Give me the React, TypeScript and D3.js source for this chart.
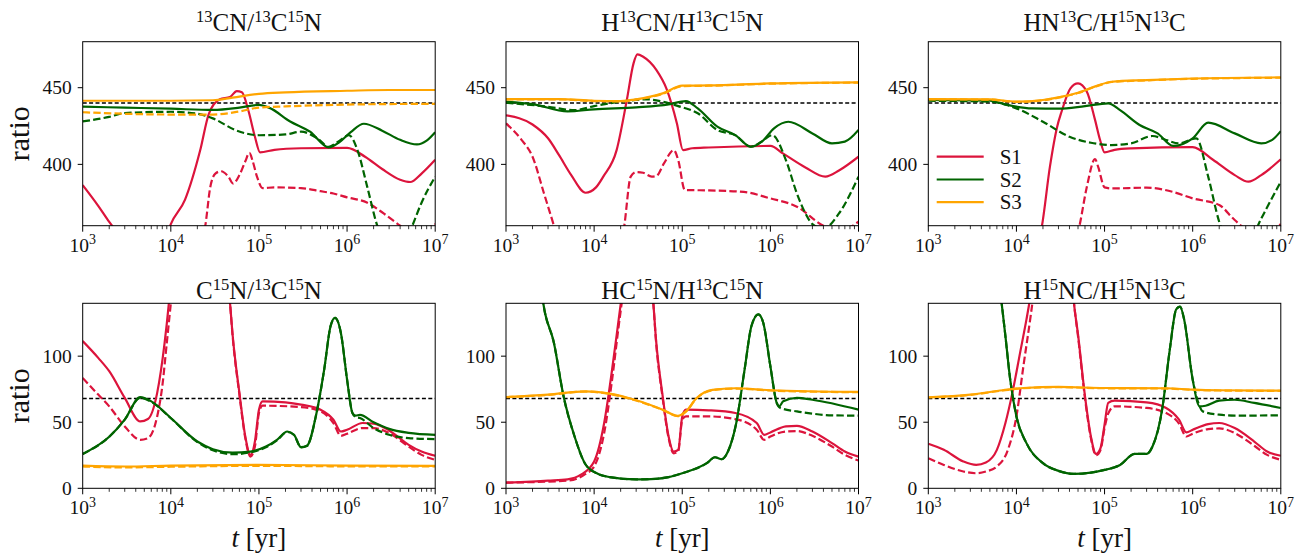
import React from 'react';
import * as d3 from 'd3';

type P = [number, number];

// ---------- axis / label data ----------
const xTickValues = [1e3, 1e4, 1e5, 1e6, 1e7];
const xTickExponents = ['3', '4', '5', '6', '7'];
const topYTicks = [400, 450];
const bottomYTicks = [0, 50, 100];
const topYDomain: [number, number] = [360, 480];
const bottomYDomain: [number, number] = [0, 140];
const refTop = 440;
const refBottom = 68;
const seriesNames = ['S1', 'S2', 'S3'];
const seriesColors = ['#dc143c', '#006400', '#ffa500'];

// title segments: [text, superscript?]
const title1: [string, boolean][] = [['13', true], ['CN/', false], ['13', true], ['C', false], ['15', true], ['N', false]];
const title2: [string, boolean][] = [['H', false], ['13', true], ['CN/H', false], ['13', true], ['C', false], ['15', true], ['N', false]];
const title3: [string, boolean][] = [['HN', false], ['13', true], ['C/H', false], ['15', true], ['N', false], ['13', true], ['C', false]];
const title4: [string, boolean][] = [['C', false], ['15', true], ['N/', false], ['13', true], ['C', false], ['15', true], ['N', false]];
const title5: [string, boolean][] = [['HC', false], ['15', true], ['N/H', false], ['13', true], ['C', false], ['15', true], ['N', false]];
const title6: [string, boolean][] = [['H', false], ['15', true], ['NC/H', false], ['15', true], ['N', false], ['13', true], ['C', false]];

// ---------- panel 1: 13CN/13C15N ----------
const p1S1: P[] = [[1e3, 386.5], [1.5e3, 373], [2e3, 362.5], [3e3, 350], [5e3, 338], [7e3, 342], [9e3, 354], [1e4, 361], [1.45e4, 377], [2.15e4, 409], [2.7e4, 433], [3.6e4, 442.5], [4.7e4, 444], [5.6e4, 447.8], [6.4e4, 447], [7.6e4, 435], [9e4, 418], [1.03e5, 407.8], [1.5e5, 409.5], [3e5, 410.5], [1e6, 410.8], [1.6e6, 405], [2.5e6, 397], [4e6, 390], [5.2e6, 388.5], [7e6, 394], [1e7, 403]];
const p1S1d: P[] = [[1e3, 330], [3e3, 312], [1e4, 318], [2e4, 345], [2.46e4, 360], [2.8e4, 385], [3.2e4, 394], [3.7e4, 395.5], [4.5e4, 392], [5.1e4, 387.5], [6e4, 393], [7e4, 402], [7.8e4, 407.5], [8.5e4, 402], [9.5e4, 392], [1.1e5, 384.5], [1.5e5, 385], [3e5, 384.5], [5e5, 382.5], [7e5, 381], [1e6, 378.5], [1.7e6, 375], [2.6e6, 368], [4e6, 360], [5e6, 356], [7e6, 357], [1e7, 361]];
const p1S2: P[] = [[1e3, 437.6], [3e3, 437], [1e4, 436.3], [3e4, 435.5], [6e4, 437], [1e5, 438.8], [1.3e5, 437], [2.26e5, 428], [3.8e5, 421.3], [6.2e5, 411], [8e5, 414], [1.1e6, 421], [1.55e6, 426.5], [2.5e6, 422], [4e6, 416], [6.2e6, 413], [8e6, 415.5], [1e7, 421]];
const p1S2d: P[] = [[1e3, 428], [2e3, 431], [3e3, 433.5], [1e4, 434.3], [2e4, 433], [3e4, 430], [5.6e4, 422], [1e5, 419], [2e5, 419.5], [3e5, 421.3], [4.6e5, 417], [6.2e5, 411.5], [8e5, 415], [1.05e6, 419], [1.3e6, 410], [1.7e6, 385], [2.2e6, 360], [3e6, 345], [4e6, 342], [5.5e6, 360], [7e6, 375], [1e7, 392]];
const p1S3: P[] = [[1e3, 441.5], [1e4, 441.5], [3e4, 441.8], [5e4, 443.5], [1e5, 446], [2e5, 447], [1e6, 448], [3e6, 448.5], [1e7, 448.5]];
const p1S3d: P[] = [[1e3, 434], [3e3, 433], [1e4, 432.5], [3e4, 432.5], [6e4, 434.5], [1e5, 437], [2e5, 437.8], [1e6, 439], [1e7, 439.5]];

// ---------- panel 2: H13CN/H13C15N ----------
const p2S1: P[] = [[1e3, 432], [2e3, 426], [3e3, 417], [4e3, 406], [5.5e3, 393], [8e3, 381.5], [1.05e4, 385], [1.27e4, 392], [1.8e4, 409.3], [2.35e4, 442], [2.8e4, 465.9], [3.1e4, 471.7], [3.6e4, 470.2], [5.1e4, 461.5], [6.6e4, 449.6], [8.7e4, 426.7], [1.02e5, 409.3], [1.3e5, 410.5], [2e5, 411], [1e6, 412], [1.4e6, 407], [2.5e6, 398], [4.2e6, 392], [6e6, 396], [1e7, 405]];
const p2S1d: P[] = [[1e3, 426.7], [1.5e3, 416], [2e3, 405], [2.7e3, 381], [3.5e3, 360], [5e3, 330], [1e4, 310], [1.5e4, 320], [2.2e4, 360], [2.6e4, 392], [3e4, 395], [3.6e4, 394.5], [4.5e4, 392], [5.1e4, 392.5], [6.2e4, 400.6], [8e4, 409.3], [9e4, 402.8], [1.07e5, 383.3], [2e5, 383], [5e5, 382], [1e6, 377.8], [2e6, 372.4], [4e6, 360], [6e6, 357], [8e6, 359], [1e7, 362.6]];
const p2S2: P[] = [[1e3, 440.9], [2e3, 439.3], [5e3, 434.5], [1e4, 435.9], [3e4, 437.2], [7e4, 439.1], [1.1e5, 441.3], [1.5e5, 436.5], [2.5e5, 424.6], [4e5, 419.1], [6e5, 411.5], [8e5, 414.8], [1.1e6, 423.5], [1.6e6, 427.8], [3e6, 420.2], [5e6, 413.7], [7e6, 414.8], [1e7, 422.4]];
const p2S2d: P[] = [[1e3, 440.2], [3e3, 437.6], [6e3, 435.4], [1e4, 438], [2e4, 440.9], [4e4, 442.4], [6e4, 440.9], [9e4, 438], [1.5e5, 433.3], [2.5e5, 422.4], [4e5, 419], [6e5, 411.5], [8e5, 415], [1.05e6, 419.1], [1.5e6, 402.8], [2e6, 381], [2.5e6, 368], [3e6, 361], [4e6, 358], [6e6, 368], [1e7, 392]];
const p2S3: P[] = [[1e3, 442.6], [4e3, 442.6], [1e4, 441.5], [2e4, 441.3], [3e4, 442.4], [6e4, 446.3], [1e5, 451.3], [2e5, 451.5], [1e6, 452.8], [1e7, 453.5]];
const p2S3d: P[] = [[1e3, 442.4], [4e3, 442.4], [1e4, 441.3], [2e4, 441.1], [3e4, 442.2], [6e4, 446], [1e5, 451], [2e5, 451.3], [1e6, 452.6], [1e7, 453.3]];

// ---------- panel 3: HN13C/H15N13C ----------
const p3S1: P[] = [[1e3, 300], [5e3, 290], [1e4, 300], [1.5e4, 335], [1.95e4, 360], [2.4e4, 398.5], [2.9e4, 424.6], [3.25e4, 434.3], [4.1e4, 449.6], [5e4, 452.8], [6.3e4, 447.4], [7.8e4, 429], [8.9e4, 415.9], [1e5, 407.8], [1.3e5, 409.5], [2e5, 410.4], [1e6, 411.3], [1.7e6, 403], [3e6, 393], [4.3e6, 388.7], [6e6, 393], [1e7, 403.3]];
const p3S1d: P[] = [[1e3, 300], [1e4, 280], [3e4, 300], [4.5e4, 345], [5.2e4, 360], [6.3e4, 385.4], [7.8e4, 403.5], [8.5e4, 398], [1e5, 385], [1.2e5, 384.3], [3e5, 384.8], [6e5, 382], [1e6, 377.8], [2e6, 373.5], [3e6, 363.7], [4e6, 358], [6e6, 356], [1e7, 361]];
const p3S2: P[] = [[1e3, 442], [5e3, 441.5], [8e3, 438.7], [1.5e4, 436.5], [3e4, 436.3], [6e4, 438], [1.1e5, 439.8], [1.5e5, 435.4], [2.5e5, 425.7], [4e5, 420.2], [6e5, 412], [1e6, 417], [1.5e6, 427.2], [3e6, 420.2], [6e6, 413.7], [8e6, 416], [1e7, 421.7]];
const p3S2d: P[] = [[1e3, 441.5], [5e3, 440.9], [1e4, 436.5], [2e4, 427.8], [4e4, 418], [7e4, 414.1], [1.2e5, 412.6], [2e5, 413.7], [3.5e5, 418.5], [5e5, 415.9], [7e5, 413.7], [1.1e6, 417], [1.5e6, 392], [2e6, 362.6], [3e6, 345], [4.5e6, 347], [5.5e6, 360], [7e6, 372], [1e7, 388.7]];
const p3S3: P[] = [[1e3, 442.6], [5e3, 442.4], [1e4, 440.9], [2e4, 442], [3e4, 443.7], [5e4, 446.7], [8e4, 451], [1.2e5, 453.9], [3e5, 455], [1e6, 456], [1e7, 456.7]];
const p3S3d: P[] = [[1e3, 442.4], [5e3, 442.2], [1e4, 440.7], [2e4, 441.8], [3e4, 443.5], [5e4, 446.5], [8e4, 450.8], [1.2e5, 453.7], [3e5, 454.8], [1e6, 455.8], [1e7, 456.5]];

// ---------- panel 4: C15N/13C15N ----------
const p4S1: P[] = [[1e3, 111.4], [1.5e3, 98.7], [2e3, 88.6], [3e3, 68.4], [4.5e3, 50.6], [5.5e3, 52.4], [7e3, 72.2], [8.5e3, 110], [9.5e3, 140], [1.1e4, 190], [2e4, 260], [3.5e4, 220], [4.7e4, 140], [5e4, 117.7], [6e4, 72.2], [7e4, 39.2], [8e4, 25.3], [9e4, 35.4], [1e5, 59.5], [1.1e5, 65.8], [2e5, 65], [3e5, 63.3], [5e5, 59.5], [7e5, 51.9], [8.5e5, 43], [1e6, 44.3], [1.5e6, 49.4], [2e6, 48.9], [3e6, 43.8], [5e6, 32.9], [7e6, 27.8], [1e7, 24.6]];
const p4S1d: P[] = [[1e3, 83.5], [1.5e3, 70.9], [2e3, 62], [3e3, 46.8], [4.5e3, 36.7], [5.5e3, 38], [7e3, 54.4], [8e3, 77.2], [9e3, 110], [1e4, 140], [1.2e4, 190], [2e4, 260], [3.5e4, 220], [4.7e4, 140], [5e4, 117], [6e4, 71], [7e4, 38], [8e4, 24], [9e4, 31.6], [1e5, 57], [1.1e5, 62.5], [3e5, 61.5], [5e5, 58.2], [7e5, 49.4], [8.5e5, 39.7], [1e6, 41.3], [1.5e6, 45.6], [2e6, 45.6], [3e6, 41.8], [5e6, 31.6], [7e6, 25.3], [1e7, 21.5]];
const p4S2: P[] = [[1e3, 26], [2e3, 39], [3e3, 52], [4.5e3, 69], [6e3, 65.8], [1e4, 53.2], [2e4, 35.4], [3e4, 29.6], [5e4, 27], [8e4, 27.8], [1.2e5, 31.6], [1.6e5, 36.7], [2.1e5, 43], [2.5e5, 40.5], [3e5, 31.1], [3.5e5, 32.2], [4.5e5, 57], [5.5e5, 89.9], [6.5e5, 122.8], [7.3e5, 129], [8.5e5, 117.7], [1e6, 82.3], [1.15e6, 57], [1.25e6, 55], [1.4e6, 55.5], [2e6, 50], [3e6, 45], [5e6, 42], [1e7, 40.5]];
const p4S2d: P[] = [[1e3, 26], [2e3, 39], [3e3, 52], [4.5e3, 68.5], [6e3, 65.5], [1e4, 53], [2e4, 35], [3e4, 28.8], [5e4, 25.8], [8e4, 27.2], [1.2e5, 31], [1.6e5, 36.2], [2.1e5, 42.6], [2.5e5, 40.3], [3e5, 31], [3.5e5, 32], [4.5e5, 57], [5.5e5, 89.9], [6.5e5, 122.8], [7.3e5, 129], [8.5e5, 117.7], [1e6, 82.3], [1.15e6, 57], [1.25e6, 54], [1.4e6, 53.2], [2e6, 45.6], [3e6, 40.5], [5e6, 38], [1e7, 37.2]];
const p4S3: P[] = [[1e3, 17.2], [3e3, 16.5], [1e4, 17.2], [1e5, 17.7], [1e6, 17.2], [1e7, 17]];
const p4S3d: P[] = [[1e3, 16.5], [3e3, 15.8], [1e4, 16.3], [1e5, 17], [1e6, 16.6], [1e7, 16.5]];

// ---------- panel 5: HC15N/H13C15N ----------
const p5S1: P[] = [[1e3, 4.3], [3e3, 5.8], [5e3, 6.8], [7e3, 10.1], [1e4, 20.3], [1.3e4, 49.4], [1.6e4, 89.9], [1.9e4, 127.8], [2.1e4, 150], [3e4, 230], [4e4, 180], [4.7e4, 140], [5e4, 115.2], [6e4, 69.6], [7e4, 39.2], [8e4, 27.8], [9e4, 29.1], [1e5, 54.4], [1.1e5, 59.5], [2e5, 59], [4e5, 57], [7e5, 49.4], [8.5e5, 40.5], [1e6, 42.3], [1.5e6, 46.8], [2e6, 47.3], [3e6, 43], [5e6, 34.2], [7e6, 27.8], [1e7, 24]];
const p5S1d: P[] = [[1e3, 4.3], [5e3, 5.8], [8e3, 10.9], [1e4, 16.5], [1.3e4, 41.8], [1.6e4, 82.3], [1.9e4, 122.8], [2.15e4, 150], [3e4, 230], [4e4, 180], [4.7e4, 140], [5e4, 114], [6e4, 68], [7e4, 38], [8e4, 26.5], [9e4, 28], [1e5, 51.9], [1.1e5, 54.4], [2e5, 54.4], [4e5, 52.4], [7e5, 44.3], [8.5e5, 36.7], [1e6, 39.2], [1.5e6, 43], [2e6, 43.3], [3e6, 39.7], [5e6, 31.6], [7e6, 25.3], [1e7, 21]];
const p5S2: P[] = [[1e3, 400], [2e3, 220], [2.65e3, 140], [3.5e3, 110], [4.5e3, 69.6], [6e3, 39.2], [8e3, 18], [1.1e4, 11], [1.5e4, 8.5], [3e4, 6.8], [5e4, 7.2], [7e4, 8.5], [1e5, 11.4], [1.9e5, 19], [2.35e5, 23.5], [2.8e5, 22], [3.3e5, 27.8], [4.1e5, 49.4], [5.1e5, 89.9], [6.1e5, 122.8], [7.3e5, 131.6], [8.3e5, 125.3], [1e6, 92.4], [1.18e6, 64.6], [1.26e6, 62], [1.4e6, 65.8], [2e6, 68.4], [3e6, 67], [1e7, 59.5]];
const p5S2d: P[] = [[1e3, 400], [2e3, 220], [2.65e3, 140], [3.5e3, 110], [4.5e3, 69.6], [6e3, 39.2], [8e3, 18], [1.1e4, 11], [1.5e4, 8.5], [3e4, 6.8], [5e4, 7.2], [7e4, 8.5], [1e5, 11.4], [1.9e5, 19], [2.35e5, 23.5], [2.8e5, 22], [3.3e5, 27.8], [4.1e5, 49.4], [5.1e5, 89.9], [6.1e5, 122.8], [7.3e5, 131.6], [8.3e5, 125.3], [1e6, 92.4], [1.18e6, 64.6], [1.3e6, 60.8], [2e6, 58.2], [3e6, 56.5], [5e6, 55.2], [1e7, 55]];
const p5S3: P[] = [[1e3, 69.1], [3e3, 70.9], [8e3, 73.4], [1.5e4, 71.6], [3e4, 66.6], [6e4, 59.5], [8.9e4, 54.8], [1.1e5, 58.2], [1.45e5, 68.2], [2.2e5, 74.5], [4e5, 75.7], [1e6, 74.2], [1e7, 72.9]];
const p5S3d: P[] = [[1e3, 68.9], [3e3, 70.7], [8e3, 73.2], [1.5e4, 71.4], [3e4, 66.4], [6e4, 59.3], [8.9e4, 54.6], [1.1e5, 58], [1.45e5, 68], [2.2e5, 74.3], [4e5, 75.5], [1e6, 74], [1e7, 72.7]];

// ---------- panel 6: H15NC/H15N13C ----------
const p6S1: P[] = [[1e3, 33.7], [1.5e3, 29.1], [2.5e3, 20.3], [3.5e3, 17.7], [4.5e3, 19.5], [6e3, 29.1], [7.5e3, 49.4], [9e3, 72.2], [1.1e4, 102.5], [1.3e4, 127.8], [1.4e4, 140], [2e4, 220], [3e4, 240], [4e4, 180], [4.5e4, 140], [5e4, 116.5], [6e4, 69.6], [7e4, 39.2], [8e4, 26], [9e4, 30.4], [1e5, 48.1], [1.1e5, 64.6], [1.3e5, 66.3], [3e5, 65], [5e5, 60.8], [7e5, 51.9], [8.5e5, 42.3], [1e6, 44.3], [1.5e6, 48.6], [2e6, 49.4], [3e6, 45.6], [5e6, 35.4], [7e6, 27.8], [1e7, 24.6]];
const p6S1d: P[] = [[1e3, 22.8], [1.5e3, 17.7], [2.5e3, 12.7], [3.5e3, 11.4], [4.5e3, 12.7], [6e3, 16.5], [8e3, 29.1], [1e4, 54.4], [1.2e4, 92.4], [1.45e4, 130.4], [1.55e4, 145], [2e4, 220], [3e4, 240], [4e4, 180], [4.5e4, 140], [5e4, 115], [6e4, 68], [7e4, 38], [8e4, 25], [9e4, 29], [1e5, 45.6], [1.1e5, 56.5], [1.3e5, 62], [3e5, 60.8], [5e5, 57], [7e5, 48.9], [8.5e5, 39.2], [1e6, 41.3], [1.5e6, 44.8], [2e6, 45.3], [3e6, 41.8], [5e6, 32.2], [7e6, 25.3], [1e7, 21.5]];
const p6S2: P[] = [[1e3, 500], [4e3, 250], [6.8e3, 140], [7.5e3, 115.2], [8.5e3, 82.3], [1e4, 54.4], [1.3e4, 34.2], [2e4, 19], [3e4, 13.2], [4.5e4, 10.9], [7e4, 11.9], [1e5, 13.9], [1.5e5, 17.7], [2.2e5, 26], [3e5, 26], [3.5e5, 31.6], [4.5e5, 59.5], [5.5e5, 105], [6.5e5, 135.4], [7.2e5, 137.5], [8e5, 127.8], [1e6, 82.3], [1.2e6, 62], [1.4e6, 62.5], [2e6, 66.3], [3e6, 67], [5e6, 64.6], [1e7, 60.8]];
const p6S2d: P[] = [[1e3, 500], [4e3, 250], [6.8e3, 140], [7.5e3, 115.2], [8.5e3, 82.3], [1e4, 54.4], [1.3e4, 34.2], [2e4, 19], [3e4, 13.2], [4.5e4, 10.9], [7e4, 11.9], [1e5, 13.9], [1.5e5, 17.7], [2.2e5, 26], [3e5, 26], [3.5e5, 31.6], [4.5e5, 59.5], [5.5e5, 105], [6.5e5, 135.4], [7.2e5, 137.5], [8e5, 127.8], [1e6, 82.3], [1.2e6, 62], [1.3e6, 58.2], [2e6, 55.7], [3e6, 55], [1e7, 55.2]];
const p6S3: P[] = [[1e3, 68.9], [3e3, 70.9], [7e3, 74.2], [1.2e4, 75.9], [3e4, 76.7], [1e5, 75.9], [5e5, 75.7], [1e6, 74.7], [2e6, 74.2], [1e7, 73.9]];
const p6S3d: P[] = [[1e3, 68.7], [3e3, 70.7], [7e3, 74], [1.2e4, 75.7], [3e4, 76.5], [1e5, 75.7], [5e5, 75.5], [1e6, 74.5], [2e6, 74], [1e7, 73.7]];

// ---------- layout ----------
const WIDTH = 1303;
const HEIGHT = 555;
const panelLefts = [82.7, 506, 928.3];
const panelW = 352.5;
const rowTops = [41.7, 303.3];
const rowHeights = [184, 185];
const FONT = "'Liberation Serif', 'Times New Roman', serif";

interface PanelDef {
  title: [string, boolean][];
  row: number;
  col: number;
  solid: P[][];
  dashed: P[][];
}

const panels: PanelDef[] = [
  { title: title1, row: 0, col: 0, solid: [p1S1, p1S2, p1S3], dashed: [p1S1d, p1S2d, p1S3d] },
  { title: title2, row: 0, col: 1, solid: [p2S1, p2S2, p2S3], dashed: [p2S1d, p2S2d, p2S3d] },
  { title: title3, row: 0, col: 2, solid: [p3S1, p3S2, p3S3], dashed: [p3S1d, p3S2d, p3S3d] },
  { title: title4, row: 1, col: 0, solid: [p4S1, p4S2, p4S3], dashed: [p4S1d, p4S2d, p4S3d] },
  { title: title5, row: 1, col: 1, solid: [p5S1, p5S2, p5S3], dashed: [p5S1d, p5S2d, p5S3d] },
  { title: title6, row: 1, col: 2, solid: [p6S1, p6S2, p6S3], dashed: [p6S1d, p6S2d, p6S3d] },
];

const minorTicks: number[] = [];
for (let d = 3; d < 7; d++) for (let k = 2; k <= 9; k++) minorTicks.push(k * Math.pow(10, d));

function Title({ segs, x, y }: { segs: [string, boolean][]; x: number; y: number }) {
  let prevSup = false;
  return (
    <text x={x} y={y} textAnchor="middle" fontFamily={FONT} fontSize={25} fill="#111">
      {segs.map(([t, sup], i) => {
        let dy = 0;
        if (sup && !prevSup) dy = -8.5;
        if (!sup && prevSup) dy = 8.5;
        prevSup = sup;
        return (
          <tspan key={i} dy={dy} fontSize={sup ? 16.5 : 25}>
            {t}
          </tspan>
        );
      })}
    </text>
  );
}

function Panel({ def, idx }: { def: PanelDef; idx: number }) {
  const left = panelLefts[def.col];
  const top = rowTops[def.row];
  const h = rowHeights[def.row];
  const x = d3.scaleLog().domain([1e3, 1e7]).range([0, panelW]);
  const y = d3
    .scaleLinear()
    .domain(def.row === 0 ? topYDomain : bottomYDomain)
    .range([h, 0]);
  const yTicks = def.row === 0 ? topYTicks : bottomYTicks;
  const ref = def.row === 0 ? refTop : refBottom;
  const line = d3
    .line<P>()
    .x((d) => x(d[0]))
    .y((d) => y(d[1]))
    .curve(d3.curveMonotoneX);
  const clipId = `clip${idx}`;
  return (
    <g transform={`translate(${left},${top})`}>
      <defs>
        <clipPath id={clipId}>
          <rect x={0} y={0} width={panelW} height={h} />
        </clipPath>
      </defs>
      <g clipPath={`url(#${clipId})`}>
        <line x1={0} x2={panelW} y1={y(ref)} y2={y(ref)} stroke="#000" strokeWidth={1.4} strokeDasharray="4,2.4" />
        {def.solid.map((s, i) => (
          <g key={i}>
            <path d={line(s) || ''} fill="none" stroke={seriesColors[i]} strokeWidth={2.2} strokeLinejoin="round" />
            <path d={line(def.dashed[i]) || ''} fill="none" stroke={seriesColors[i]} strokeWidth={2.2} strokeDasharray="7.4,3.2" />
          </g>
        ))}
      </g>
      <rect x={0} y={0} width={panelW} height={h} fill="none" stroke="#000" strokeWidth={1} />
      {minorTicks.map((t) => (
        <line key={t} x1={x(t)} x2={x(t)} y1={h} y2={h + 3.5} stroke="#000" strokeWidth={0.8} />
      ))}
      {xTickValues.map((t, i) => (
        <g key={t}>
          <line x1={x(t)} x2={x(t)} y1={h} y2={h + 6} stroke="#000" strokeWidth={1} />
          <text x={x(t)} y={h + 26} textAnchor="middle" fontFamily={FONT} fontSize={19.5} fill="#111">
            <tspan>10</tspan>
            <tspan dy={-7.5} fontSize={14}>
              {xTickExponents[i]}
            </tspan>
          </text>
        </g>
      ))}
      {yTicks.map((t) => (
        <g key={t}>
          <line x1={-5} x2={0} y1={y(t)} y2={y(t)} stroke="#000" strokeWidth={1} />
          <text x={-11} y={y(t) + 6.5} textAnchor="end" fontFamily={FONT} fontSize={19.5} fill="#111">
            {t}
          </text>
        </g>
      ))}
      <Title segs={def.title} x={panelW / 2} y={def.row === 0 ? -11 : -4.5} />
    </g>
  );
}

export default function App() {
  const legendX = 936.7;
  const legendYs = [156.7, 179.5, 202.2];
  return (
    <svg
      width={WIDTH}
      height={HEIGHT}
      viewBox={`0 0 ${WIDTH} ${HEIGHT}`}
      style={{ position: 'absolute', left: 0, top: 0, background: '#fff' }}
    >
      <rect x={0} y={0} width={WIDTH} height={HEIGHT} fill="#fff" />
      {panels.map((p, i) => (
        <Panel key={i} def={p} idx={i} />
      ))}
      {/* y labels */}
      {rowTops.map((t, r) => (
        <text
          key={r}
          transform={`translate(29,${t + rowHeights[r] / 2}) rotate(-90)`}
          textAnchor="middle"
          fontFamily={FONT}
          fontSize={30}
          fill="#111"
        >
          ratio
        </text>
      ))}
      {/* x labels */}
      {panelLefts.map((l, i) => (
        <text key={i} x={l + panelW / 2} y={547} textAnchor="middle" fontFamily={FONT} fontSize={27} fill="#111">
          <tspan fontStyle="italic">t</tspan>
          <tspan> [yr]</tspan>
        </text>
      ))}
      {/* legend */}
      {seriesNames.map((n, i) => (
        <g key={n}>
          <line x1={legendX} x2={legendX + 47} y1={legendYs[i]} y2={legendYs[i]} stroke={seriesColors[i]} strokeWidth={2.2} />
          <text x={legendX + 63} y={legendYs[i] + 7} fontFamily={FONT} fontSize={21} fill="#111">
            {n}
          </text>
        </g>
      ))}
    </svg>
  );
}
